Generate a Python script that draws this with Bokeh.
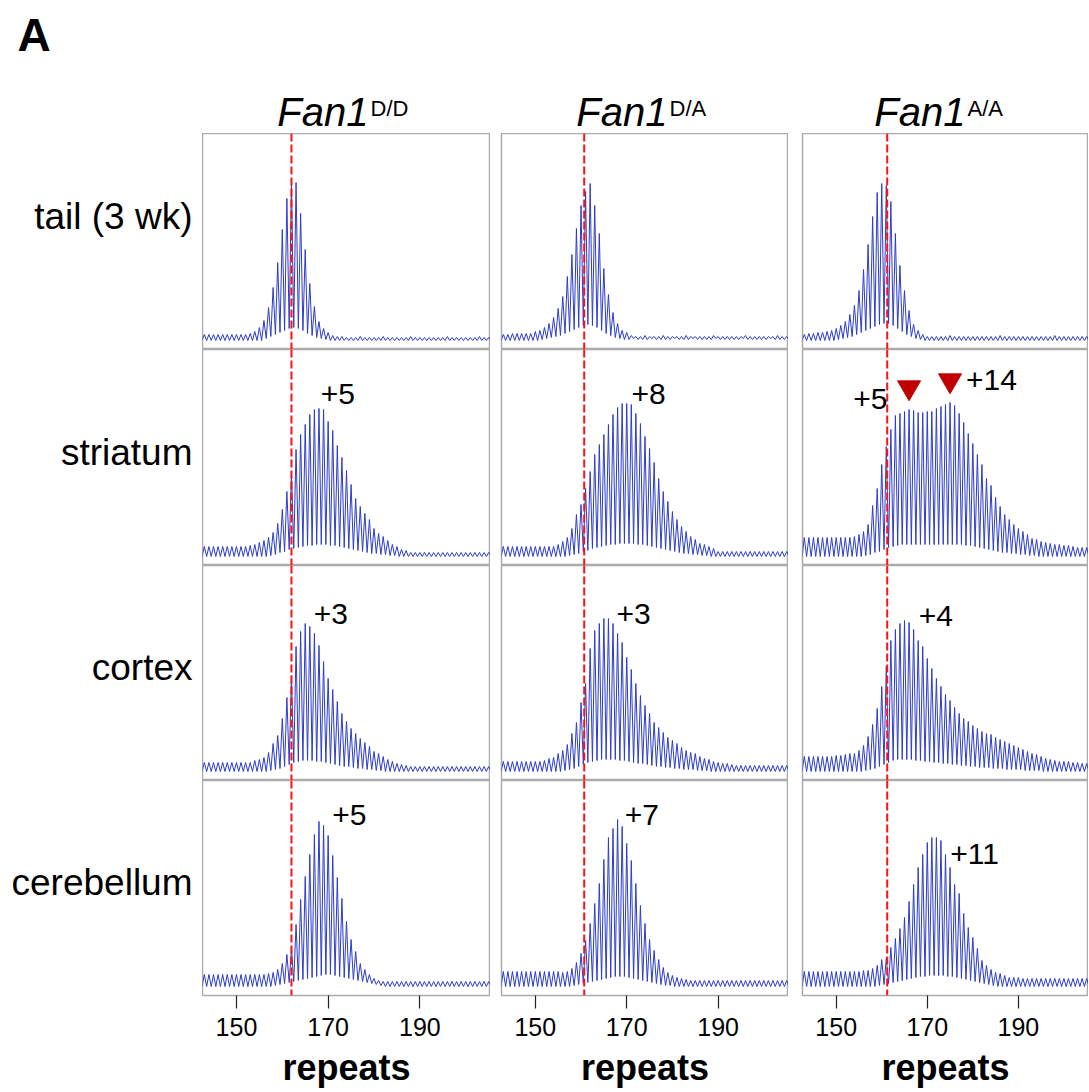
from bokeh.plotting import figure
from bokeh.models import Range1d, Span, FixedTicker, Label
from bokeh.layouts import column, row
from bokeh.embed import file_html
from bokeh.resources import INLINE

FONT = "Liberation Sans"

# ---------------- data ----------------
repeats = list(range(143, 206))          # repeat number of each peak (63)
genotypes = ["D/D", "D/A", "A/A"]
tissues = ["tail (3 wk)", "striatum", "cortex", "cerebellum"]
tail_mode = [162, 160.7, 161.2]          # red dashed reference (tail modal repeat)
ticks = [150, 170, 190]

# peak heights (relative units), rows of 10 repeats: 143-152, 153-162, ... 203-205
tail_DD = [6, 6, 6, 6, 6, 6, 6, 6, 6, 6,
           7, 9, 13, 20, 33, 53, 78, 111, 142, 159,
           158, 127, 91, 57, 34, 19, 12, 8, 5, 4,
           4, 3, 3, 3, 4, 3, 3, 3, 3, 4,
           3, 3, 3, 3, 3, 4, 3, 3, 3, 3,
           3, 3, 3, 4, 3, 3, 3, 3, 3, 3,
           4, 3, 3]
tail_DD_v = [0, 0, 0, 0, 0, 0, 0, 0, 0, 0,
             0, 0, 0, 2, 4, 6, 8, 10, 12, 13,
             12, 10, 7, 5, 3, 2, 1, 0, 0, 0,
             0, 0, 0, 0, 0, 0, 0, 0, 0, 0,
             0, 0, 0, 0, 0, 0, 0, 0, 0, 0,
             0, 0, 0, 0, 0, 0, 0, 0, 0, 0,
             0, 0, 0]
tail_DA = [6, 6, 7, 7, 7, 7, 7, 9, 10, 13,
           17, 23, 32, 44, 64, 86, 112, 135, 149, 157,
           135, 107, 72, 46, 28, 17, 10, 8, 5, 4,
           4, 5, 4, 4, 4, 5, 4, 4, 4, 4,
           5, 4, 4, 4, 4, 4, 5, 4, 4, 4,
           4, 4, 4, 5, 4, 4, 4, 4, 4, 4,
           5, 4, 4]
tail_DA_v = [0, 0, 0, 0, 0, 0, 0, 0, 1, 2,
             3, 4, 5, 7, 9, 11, 13, 15, 16, 15,
             13, 10, 7, 5, 3, 2, 1, 1, 2, 1,
             1, 1, 2, 1, 1, 1, 1, 2, 1, 1,
             1, 2, 1, 1, 1, 1, 2, 1, 1, 1,
             1, 1, 2, 1, 1, 1, 1, 1, 2, 1,
             1, 1, 1]
tail_AA = [6, 7, 7, 8, 8, 9, 10, 12, 15, 19,
           26, 35, 50, 71, 96, 124, 148, 157, 155, 139,
           107, 75, 50, 30, 16, 10, 6, 4, 4, 4,
           4, 4, 5, 4, 4, 4, 4, 4, 4, 4,
           4, 4, 4, 5, 4, 4, 4, 4, 4, 4,
           4, 4, 4, 4, 4, 5, 4, 4, 4, 4,
           4, 4, 4]
tail_AA_v = [0, 0, 0, 0, 0, 0, 0, 1, 2, 3,
             4, 6, 8, 10, 12, 14, 16, 17, 17, 15,
             12, 9, 6, 4, 2, 1, 0, 0, 0, 0,
             0, 0, 0, 0, 0, 0, 0, 0, 0, 0,
             0, 0, 0, 0, 0, 0, 0, 0, 0, 0,
             0, 0, 0, 0, 0, 0, 0, 0, 0, 0,
             0, 0, 0]

stri_DD = [10, 10, 10, 10, 10, 10, 10, 10, 10, 10,
           11, 12, 14, 16, 19, 24, 33, 47, 65, 84,
           107, 122, 132, 142, 147, 148, 147, 135, 126, 111,
           99, 86, 72, 58, 50, 43, 37, 28, 23, 20,
           16, 12, 10, 7, 6, 4, 4, 4, 4, 4,
           4, 4, 4, 4, 4, 4, 4, 4, 4, 4,
           4, 4, 4]
stri_DD_v = [0, 0, 0, 0, 0, 0, 0, 0, 0, 0,
             0, 0, 0, 0, 1, 2, 4, 5, 7, 8,
             9, 10, 11, 11, 12, 12, 12, 11, 11, 10,
             9, 8, 7, 6, 5, 4, 3, 3, 2, 2,
             1, 1, 0, 0, 0, 0, 0, 0, 0, 0,
             0, 0, 0, 0, 0, 0, 0, 0, 0, 0,
             0, 0, 0]
stri_DA = [10, 10, 10, 10, 10, 10, 10, 10, 10, 10,
           10, 10, 12, 15, 19, 28, 42, 52, 68, 85,
           102, 112, 122, 132, 142, 149, 153, 153, 152, 143,
           133, 120, 108, 94, 78, 65, 55, 45, 37, 30,
           25, 20, 17, 13, 12, 10, 8, 5, 5, 5,
           5, 5, 5, 5, 5, 5, 5, 5, 5, 5,
           5, 5, 5]
stri_DA_v = [0, 0, 0, 0, 0, 0, 0, 0, 0, 0,
             0, 0, 0, 0, 1, 2, 3, 5, 6, 8,
             9, 10, 11, 12, 12, 13, 13, 13, 13, 12,
             12, 11, 10, 9, 8, 7, 6, 5, 4, 3,
             3, 2, 2, 1, 1, 0, 0, 0, 0, 0,
             0, 0, 0, 0, 0, 0, 0, 0, 0, 0,
             0, 0, 0]
stri_AA = [19, 19, 19, 19, 19, 19, 19, 19, 19, 19,
           19, 20, 22, 25, 32, 51, 68, 92, 110, 127,
           141, 143, 145, 147, 146, 144, 144, 145, 145, 148,
           150, 152, 154, 151, 143, 134, 123, 113, 102, 92,
           78, 71, 59, 50, 42, 37, 32, 28, 25, 22,
           18, 17, 15, 14, 13, 12, 12, 11, 11, 10,
           9, 9, 9]
stri_AA_v = [0, 0, 0, 0, 0, 0, 0, 0, 0, 0,
             0, 0, 0, 1, 2, 4, 5, 7, 9, 10,
             11, 12, 12, 12, 12, 12, 12, 12, 12, 12,
             12, 12, 12, 12, 12, 11, 11, 10, 9, 8,
             7, 6, 5, 4, 4, 3, 3, 2, 2, 1,
             1, 0, 0, 0, 0, 0, 0, 0, 0, 0,
             0, 0, 0]

cort_DD = [9, 9, 9, 9, 9, 9, 9, 9, 9, 9,
           9, 11, 12, 14, 19, 28, 36, 53, 74, 96,
           125, 140, 148, 145, 138, 126, 110, 93, 82, 70,
           58, 50, 43, 38, 33, 29, 25, 20, 18, 15,
           12, 10, 8, 7, 6, 5, 5, 5, 5, 5,
           5, 5, 5, 5, 5, 5, 5, 5, 5, 5,
           5, 5, 5]
cort_DD_v = [0, 0, 0, 0, 0, 0, 0, 0, 0, 0,
             0, 0, 0, 0, 1, 2, 3, 5, 7, 9,
             10, 11, 11, 11, 10, 10, 9, 8, 7, 6,
             5, 5, 4, 3, 3, 2, 2, 1, 1, 0,
             0, 0, 0, 0, 0, 0, 0, 0, 0, 0,
             0, 0, 0, 0, 0, 0, 0, 0, 0, 0,
             0, 0, 0]
cort_DA = [10, 10, 10, 10, 10, 10, 10, 10, 10, 11,
           13, 14, 18, 21, 27, 38, 49, 69, 88, 123,
           141, 148, 153, 153, 148, 138, 129, 114, 102, 88,
           76, 66, 58, 49, 44, 39, 34, 31, 28, 24,
           21, 19, 18, 15, 13, 12, 10, 9, 8, 8,
           7, 6, 6, 6, 6, 6, 6, 6, 6, 6,
           6, 6, 6]
cort_DA_v = [0, 0, 0, 0, 0, 0, 0, 0, 0, 0,
             0, 0, 0, 1, 2, 3, 5, 7, 9, 10,
             11, 12, 12, 12, 12, 11, 11, 10, 9, 8,
             8, 7, 6, 5, 5, 4, 4, 3, 3, 2,
             2, 2, 1, 1, 1, 0, 0, 0, 0, 0,
             0, 0, 0, 0, 0, 0, 0, 0, 0, 0,
             0, 0, 0]
cort_AA = [15, 15, 15, 15, 15, 15, 15, 16, 16, 17,
           18, 18, 21, 26, 35, 47, 63, 85, 105, 131,
           142, 148, 151, 149, 142, 131, 125, 113, 103, 93,
           85, 77, 71, 64, 58, 53, 50, 46, 43, 40,
           38, 37, 34, 32, 30, 28, 26, 24, 22, 20,
           18, 17, 15, 13, 12, 11, 10, 10, 10, 9,
           9, 8, 8]
cort_AA_v = [0, 0, 0, 0, 0, 0, 0, 0, 0, 0,
             0, 0, 0, 1, 2, 3, 5, 7, 9, 11,
             12, 12, 12, 12, 11, 11, 10, 10, 9, 9,
             8, 8, 7, 7, 6, 6, 5, 5, 4, 4,
             4, 3, 3, 3, 2, 2, 2, 2, 1, 1,
             1, 1, 0, 0, 0, 0, 0, 0, 0, 0,
             0, 0, 0]

cere_DD = [12, 12, 12, 12, 12, 12, 12, 12, 12, 12,
           12, 12, 12, 12, 13, 14, 17, 23, 32, 38,
           62, 87, 110, 132, 152, 165, 161, 151, 131, 109,
           88, 65, 47, 35, 23, 17, 12, 8, 6, 5,
           5, 5, 5, 5, 5, 5, 5, 5, 5, 5,
           5, 5, 5, 5, 5, 5, 5, 5, 5, 5,
           5, 5, 5]
cere_DD_v = [0, 0, 0, 0, 0, 0, 0, 0, 0, 0,
             0, 0, 0, 0, 0, 1, 2, 3, 4, 5,
             6, 7, 8, 9, 10, 11, 12, 12, 11, 10,
             9, 8, 7, 6, 5, 4, 3, 2, 1, 0,
             0, 0, 0, 0, 0, 0, 0, 0, 0, 0,
             0, 0, 0, 0, 0, 0, 0, 0, 0, 0,
             0, 0, 0]
cere_DA = [15, 15, 15, 15, 15, 15, 15, 15, 15, 15,
           15, 15, 15, 14, 15, 18, 24, 33, 46, 63,
           83, 103, 127, 149, 158, 167, 160, 143, 126, 103,
           81, 63, 47, 36, 27, 19, 14, 11, 9, 8,
           7, 6, 6, 6, 6, 6, 6, 6, 6, 6,
           6, 6, 6, 6, 6, 6, 6, 6, 6, 6,
           6, 6, 6]
cere_DA_v = [0, 0, 0, 0, 0, 0, 0, 0, 0, 0,
             0, 0, 0, 0, 0, 1, 2, 3, 4, 5,
             6, 7, 8, 9, 10, 10, 10, 9, 8, 7,
             6, 5, 4, 3, 2, 1, 1, 0, 0, 0,
             0, 0, 0, 0, 0, 0, 0, 0, 0, 0,
             0, 0, 0, 0, 0, 0, 0, 0, 0, 0,
             0, 0, 0]
cere_AA = [15, 15, 15, 15, 15, 15, 15, 15, 15, 15,
           15, 15, 15, 16, 16, 18, 21, 27, 28, 39,
           48, 58, 69, 85, 102, 119, 132, 144, 149, 149,
           146, 132, 119, 102, 93, 73, 59, 49, 38, 26,
           21, 17, 14, 13, 11, 9, 9, 9, 8, 8,
           8, 8, 8, 8, 8, 8, 8, 8, 8, 8,
           8, 8, 8]
cere_AA_v = [0, 0, 0, 0, 0, 0, 0, 0, 0, 0,
             0, 0, 0, 0, 0, 0, 1, 2, 3, 4,
             5, 6, 7, 8, 9, 10, 10, 11, 11, 11,
             11, 10, 10, 9, 8, 7, 6, 5, 4, 3,
             2, 1, 0, 0, 0, 0, 0, 0, 0, 0,
             0, 0, 0, 0, 0, 0, 0, 0, 0, 0,
             0, 0, 0]

traces = [
    [(tail_DD, tail_DD_v), (tail_DA, tail_DA_v), (tail_AA, tail_AA_v)],
    [(stri_DD, stri_DD_v), (stri_DA, stri_DA_v), (stri_AA, stri_AA_v)],
    [(cort_DD, cort_DD_v), (cort_DA, cort_DA_v), (cort_AA, cort_AA_v)],
    [(cere_DD, cere_DD_v), (cere_DA, cere_DA_v), (cere_AA, cere_AA_v)],
]
for ri, rr in enumerate(traces):
    for ci, (pk, vl) in enumerate(rr):
        assert len(pk) == len(repeats) and len(vl) == len(repeats), (ri, ci, len(pk), len(vl))

# expansion annotations: (row, col, text, x, y)
expansions = [
    (1, 0, "+5", 172.1, 163), (1, 1, "+8", 174.8, 163),
    (1, 2, "+5", 157.5, 158), (1, 2, "+14", 184.1, 177),
    (2, 0, "+3", 170.6, 158), (2, 1, "+3", 171.5, 158), (2, 2, "+4", 171.9, 156),
    (3, 0, "+5", 174.6, 172), (3, 1, "+7", 173.3, 172), (3, 2, "+11", 180.4, 133),
]
mode_arrows_x = [166, 175]               # two modes in Fan1 A/A striatum
mode_arrows_y = [169, 176]

# ---------------- drawing ----------------
LINE = "#2c3ccc"
col_w = [288, 298, 300]
col_left = [0, 11, 14]
row_h = [216, 216, 215, 215]
BOTTOM = 97


def make_panel(r, c):
    pk, vl = traces[r][c]
    bottom = (r == 3)
    p = figure(width=col_w[c], height=row_h[r] + (BOTTOM if bottom else 0),
               x_range=Range1d(142.6, 205.4), y_range=Range1d(-9, row_h[r] - 9),
               output_backend="svg", toolbar_location=None,
               min_border_left=col_left[c], min_border_right=0,
               min_border_top=0, min_border_bottom=BOTTOM if bottom else 0,
               x_axis_location="below" if bottom else None, y_axis_location=None)
    p.grid.visible = False
    p.outline_line_color = "#ababab"
    p.outline_line_width = 1.5
    p.background_fill_color = "white"
    p.border_fill_color = "white"

    xs, ys = [repeats[0] - 0.5], [vl[0]]
    for rep, h, v in zip(repeats, pk, vl):
        xs += [rep, rep + 0.5]
        ys += [h, v]
    p.line(xs, ys, line_color=LINE, line_width=1)

    p.add_layout(Span(location=tail_mode[c], dimension="height", line_color="#ff1111",
                      line_width=2, line_dash="8 3"))

    for (er, ec, txt, ex, ey) in expansions:
        if er == r and ec == c:
            p.add_layout(Label(x=ex, y=ey, text=txt, text_font=FONT, text_font_size="30px",
                               text_align="center", text_baseline="middle", text_color="black"))
    if r == 1 and c == 2:
        p.scatter(mode_arrows_x, mode_arrows_y, marker="inverted_triangle", size=23,
                  fill_color="#c00000", line_color="#c00000")

    if bottom:
        ax = p.xaxis[0]
        ax.ticker = FixedTicker(ticks=ticks)
        ax.major_tick_out = 13
        ax.major_tick_in = 0
        ax.minor_tick_out = 0
        ax.minor_tick_in = 0
        ax.axis_line_color = None
        ax.major_tick_line_color = "#222222"
        ax.major_tick_line_width = 1.2
        ax.major_label_text_font = FONT
        ax.major_label_text_font_size = "25px"
        ax.major_label_text_color = "black"
        ax.major_label_standoff = 9
        ax.axis_label = "repeats"
        ax.axis_label_text_font = FONT
        ax.axis_label_text_font_size = "36px"
        ax.axis_label_text_font_style = "bold"
        ax.axis_label_text_color = "black"
        ax.axis_label_standoff = 8
    return p


def blank(width, height, xr, yr):
    p = figure(width=width, height=height, x_range=xr, y_range=yr,
               output_backend="svg", toolbar_location=None,
               min_border=0, x_axis_location=None, y_axis_location=None)
    p.grid.visible = False
    p.outline_line_color = None
    return p


# header (y measured downward from the top of the page)
header = blank(1088, 133, Range1d(0, 1088), Range1d(133, 0))
header.add_layout(Label(x=17, y=34, text="A", text_font=FONT, text_font_size="46px",
                        text_font_style="bold", text_baseline="middle", text_color="black"))
fan_right = [368, 667, 965]
for c, g in enumerate(genotypes):
    header.add_layout(Label(x=fan_right[c], y=111, text="Fan1", text_font=FONT,
                            text_font_size="40px", text_font_style="italic",
                            text_align="right", text_baseline="middle", text_color="black"))
    header.add_layout(Label(x=fan_right[c] + 2, y=108, text=g, text_font=FONT,
                            text_font_size="22px", text_align="left",
                            text_baseline="middle", text_color="black"))

# row labels
labels = blank(202, 1092 - 133, Range1d(0, 202), Range1d(1092, 133))
label_mid = [216, 452, 667, 882]
for r, t in enumerate(tissues):
    labels.add_layout(Label(x=192, y=label_mid[r], text=t, text_font=FONT,
                            text_font_size="37px", text_align="right",
                            text_baseline="middle", text_color="black"))

cols = []
for c in range(3):
    cols.append(column(*[make_panel(r, c) for r in range(4)], spacing=0))

layout = column(header, row(labels, *cols, spacing=0), spacing=0)

open("out.html", "w").write(file_html(layout, INLINE, title="Fan1 repeat traces"))
